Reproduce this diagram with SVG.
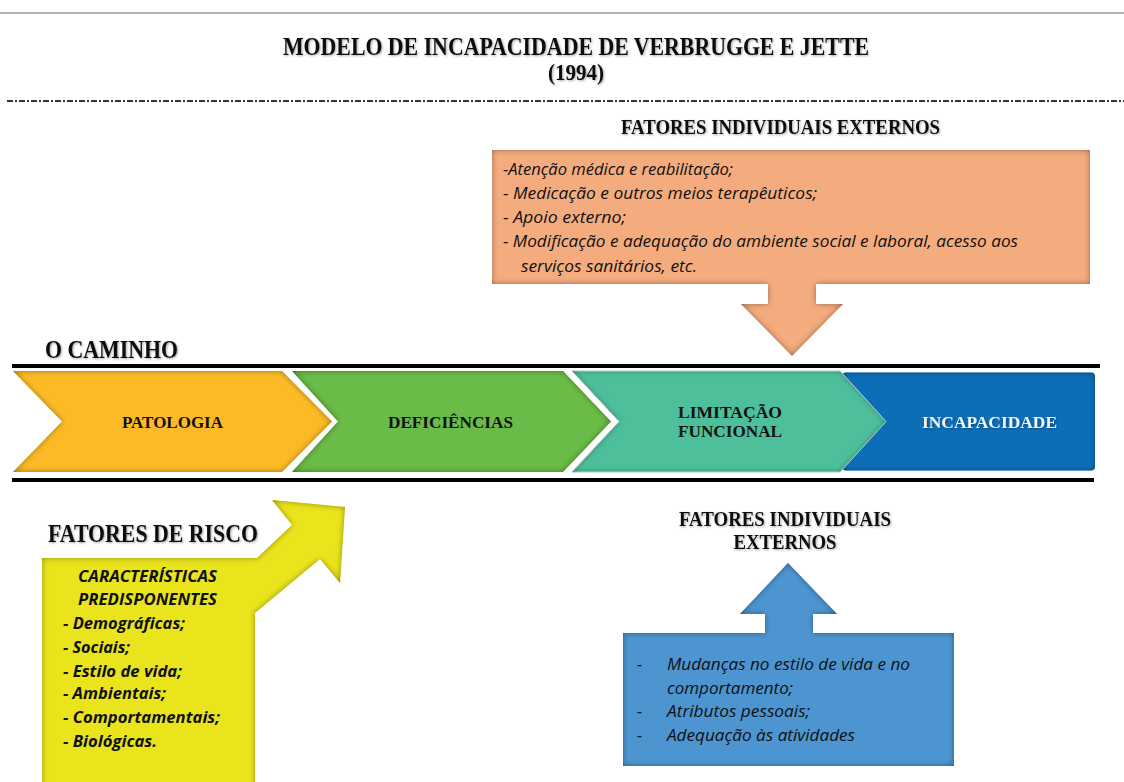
<svg xmlns="http://www.w3.org/2000/svg" width="1124" height="782" viewBox="0 0 1124 782">
  <defs>
    <filter id="inner" x="-10%" y="-10%" width="120%" height="120%">
      <feFlood flood-color="#000" result="f"/>
      <feComposite in="f" in2="SourceAlpha" operator="out" result="outside"/>
      <feGaussianBlur in="outside" stdDeviation="3" result="blur"/>
      <feComposite in="blur" in2="SourceAlpha" operator="in" result="shadow"/>
      <feComponentTransfer in="shadow" result="shadow2"><feFuncA type="linear" slope="0.75"/></feComponentTransfer>
      <feMerge><feMergeNode in="SourceGraphic"/><feMergeNode in="shadow2"/></feMerge>
    </filter>
    <filter id="tshadow" x="-5%" y="-20%" width="110%" height="150%">
      <feDropShadow dx="1" dy="1" stdDeviation="1" flood-color="#000" flood-opacity="0.35"/>
    </filter>
  </defs>
  <style>
    .head { font-family: "Liberation Serif", "Times New Roman", serif; font-weight: bold; fill: #111; }
    .lab { font-family: "Liberation Serif", "Times New Roman", serif; font-weight: bold; font-size: 16.5px; fill: #111; text-anchor: middle; }
    .body { font-family: "Open Sans", "Liberation Sans", sans-serif; font-style: italic; font-size: 16px; fill: #111; }
    .bodyb { font-family: "Open Sans", "Liberation Sans", sans-serif; font-style: italic; font-weight: bold; font-size: 16px; fill: #111; }
    .rule { stroke: #000; stroke-width: 4; }
  </style>

  <rect x="0" y="0" width="1124" height="782" fill="#fff"/>

  <!-- header -->
  <g id="header">
    <line x1="0" y1="13" x2="1124" y2="13" stroke="#999" stroke-width="1.5"/>
    <text class="head" x="576" y="55" font-size="25" text-anchor="middle" textLength="586" lengthAdjust="spacingAndGlyphs" filter="url(#tshadow)">MODELO DE INCAPACIDADE DE VERBRUGGE E JETTE</text>
    <text class="head" x="576" y="80" font-size="24" text-anchor="middle" textLength="56" lengthAdjust="spacingAndGlyphs" filter="url(#tshadow)">(1994)</text>
    <line x1="7" y1="101" x2="1124" y2="101" stroke="#333" stroke-width="2" stroke-dasharray="6 2 2 2"/>
  </g>

  <!-- connectors / rules of the path -->
  <g id="connectors">
    <line class="rule" x1="12" y1="366" x2="1100" y2="366"/>
    <line class="rule" x1="12" y1="480" x2="1094" y2="480"/>
  </g>

  <!-- Fatores individuais externos (top) -->
  <g id="fatores-top">
    <text class="head" x="621" y="134" font-size="20" textLength="319" lengthAdjust="spacingAndGlyphs" filter="url(#tshadow)">FATORES INDIVIDUAIS EXTERNOS</text>
    <path d="M492,150 H1090 V284 H816 V304 H843 L792,356 L741,304 H768 V284 H492 Z" fill="#F4AC7E" filter="url(#inner)"/>
    <text class="body" x="503" y="175" textLength="230" lengthAdjust="spacingAndGlyphs">-Atenção médica e reabilitação;</text>
    <text class="body" x="503" y="199" textLength="314" lengthAdjust="spacingAndGlyphs">- Medicação e outros meios terapêuticos;</text>
    <text class="body" x="503" y="223" textLength="123" lengthAdjust="spacingAndGlyphs">- Apoio externo;</text>
    <text class="body" x="503" y="247" textLength="515" lengthAdjust="spacingAndGlyphs">- Modificação e adequação do ambiente social e laboral, acesso aos</text>
    <text class="body" x="521" y="272" textLength="176" lengthAdjust="spacingAndGlyphs">serviços sanitários, etc.</text>
  </g>

  <g id="caminho-label">
    <text class="head" x="45" y="358" font-size="25" textLength="133" lengthAdjust="spacingAndGlyphs" filter="url(#tshadow)">O CAMINHO</text>
  </g>

  <!-- chevrons -->
  <g id="incapacidade">
    <rect x="842" y="372.5" width="253" height="98" rx="4" fill="#0D6EB8" filter="url(#inner)"/>
    <text class="lab" x="989.5" y="428" style="fill:#f2f2f2" textLength="135" lengthAdjust="spacingAndGlyphs" filter="url(#tshadow)">INCAPACIDADE</text>
  </g>
  <g id="limitacao">
    <path d="M572,371 H840 L886,421.5 L840,472 H572 L619,421.5 Z" fill="#4DBF9B" stroke="#e6f5ef" stroke-width="1" filter="url(#inner)"/>
    <text class="lab" x="730" y="418" textLength="104" lengthAdjust="spacingAndGlyphs">LIMITAÇÃO</text>
    <text class="lab" x="730" y="437" textLength="104" lengthAdjust="spacingAndGlyphs">FUNCIONAL</text>
  </g>
  <g id="deficiencias">
    <path d="M292,371 H563 L611,421.5 L563,472 H292 L338,421.5 Z" fill="#6BBB46" filter="url(#inner)"/>
    <text class="lab" x="450.5" y="428" textLength="125" lengthAdjust="spacingAndGlyphs">DEFICIÊNCIAS</text>
  </g>
  <g id="patologia">
    <path d="M13,371 H282 L332,421.5 L282,472 H13 L62,421.5 Z" fill="#FCBB27" filter="url(#inner)"/>
    <text class="lab" x="172.5" y="428" textLength="101" lengthAdjust="spacingAndGlyphs">PATOLOGIA</text>
  </g>

  <!-- Fatores de risco -->
  <g id="fatores-risco">
    <text class="head" x="48" y="542" font-size="25" textLength="210" lengthAdjust="spacingAndGlyphs" filter="url(#tshadow)">FATORES DE RISCO</text>
    <path d="M42,558 L257,558 L292,525 L272,500 L345,507 L340,583 L320,559 L255,613 L255,790 L42,790 Z" fill="#EAE41F" filter="url(#inner)"/>
    <text class="bodyb" x="78" y="582" textLength="139" lengthAdjust="spacingAndGlyphs">CARACTERÍSTICAS</text>
    <text class="bodyb" x="78" y="605" textLength="139" lengthAdjust="spacingAndGlyphs">PREDISPONENTES</text>
    <text class="bodyb" x="63" y="629" textLength="122" lengthAdjust="spacingAndGlyphs">- Demográficas;</text>
    <text class="bodyb" x="63" y="653" textLength="67" lengthAdjust="spacingAndGlyphs">- Sociais;</text>
    <text class="bodyb" x="63" y="677" textLength="119" lengthAdjust="spacingAndGlyphs">- Estilo de vida;</text>
    <text class="bodyb" x="63" y="699" textLength="103" lengthAdjust="spacingAndGlyphs">- Ambientais;</text>
    <text class="bodyb" x="63" y="723" textLength="157" lengthAdjust="spacingAndGlyphs">- Comportamentais;</text>
    <text class="bodyb" x="63" y="747" textLength="94" lengthAdjust="spacingAndGlyphs">- Biológicas.</text>
  </g>

  <!-- Fatores individuais externos (bottom) -->
  <g id="fatores-bottom">
    <text class="head" x="785" y="526" font-size="20" text-anchor="middle" textLength="212" lengthAdjust="spacingAndGlyphs" filter="url(#tshadow)">FATORES INDIVIDUAIS</text>
    <text class="head" x="785" y="549" font-size="20" text-anchor="middle" textLength="103" lengthAdjust="spacingAndGlyphs" filter="url(#tshadow)">EXTERNOS</text>
    <path d="M623,633 H765 V614 H740 L788,563 L837,614 H813 V633 H954 V766 H623 Z" fill="#4E95D0" filter="url(#inner)"/>
    <text class="body" x="637" y="670">-</text>
    <text class="body" x="667" y="670" textLength="243" lengthAdjust="spacingAndGlyphs">Mudanças no estilo de vida e no</text>
    <text class="body" x="667" y="694" textLength="126" lengthAdjust="spacingAndGlyphs">comportamento;</text>
    <text class="body" x="637" y="717">-</text>
    <text class="body" x="667" y="717" textLength="143" lengthAdjust="spacingAndGlyphs">Atributos pessoais;</text>
    <text class="body" x="637" y="741">-</text>
    <text class="body" x="667" y="741" textLength="188" lengthAdjust="spacingAndGlyphs">Adequação às atividades</text>
  </g>
</svg>
